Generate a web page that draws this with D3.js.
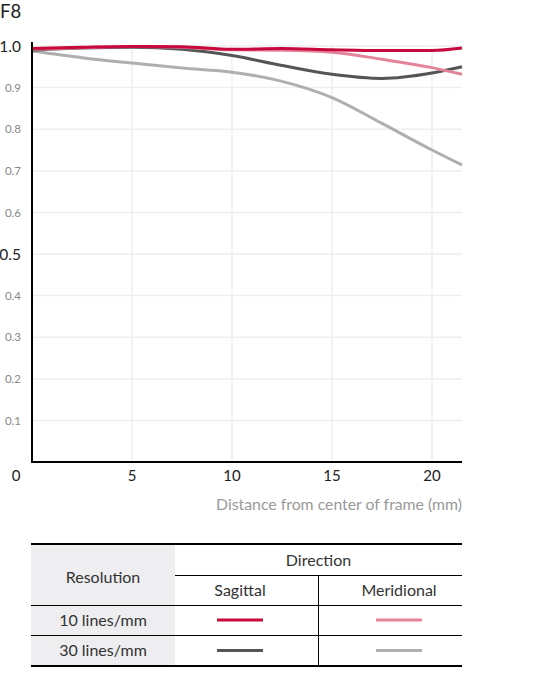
<!DOCTYPE html>
<html>
<head>
<meta charset="utf-8">
<script src="https://cdn.jsdelivr.net/npm/d3@7"></script>
<style>
  body { margin: 0; background: #fff; }
  svg { display: block; font-family: Lato, "Open Sans", sans-serif; }
</style>
</head>
<body>
<div id="mtf"></div>
<script>
// distance from center (mm) where values were read
var positions = [0, 2.5, 5, 7.5, 10, 12.5, 15, 17.5, 20, 21.5];
var sagittal10 = [0.994, 0.997, 0.999, 0.998, 0.992, 0.994, 0.991, 0.989, 0.989, 0.995];
var meridional10 = [0.992, 0.996, 0.999, 0.997, 0.991, 0.990, 0.985, 0.968, 0.948, 0.932];
var sagittal30 = [0.990, 0.995, 0.997, 0.992, 0.977, 0.953, 0.932, 0.922, 0.935, 0.950];
var meridional30 = [0.988, 0.972, 0.959, 0.947, 0.937, 0.915, 0.876, 0.814, 0.750, 0.714];

var xTicks = [5, 10, 15, 20];
var yTicks = [0.1, 0.2, 0.3, 0.4, 0.5, 0.6, 0.7, 0.8, 0.9, 1.0];
var bigYTicks = [0.5, 1.0];

var rowLabels = ["10 lines/mm", "30 lines/mm"];
var colLabels = ["Sagittal", "Meridional"];

var series = [
  { name: "Sagittal 10", values: sagittal10, color: "#c8093c", row: 0, col: 0 },
  { name: "Meridional 10", values: meridional10, color: "#e5839b", row: 0, col: 1 },
  { name: "Sagittal 30", values: sagittal30, color: "#555555", row: 1, col: 0 },
  { name: "Meridional 30", values: meridional30, color: "#afafaf", row: 1, col: 1 }
];

var width = 547, height = 679;
var svg = d3.select("#mtf").append("svg")
    .attr("width", width)
    .attr("height", height);

var x = d3.scaleLinear().domain([0, 21.5]).range([32, 462]);
var y = d3.scaleLinear().domain([0, 1]).range([462, 46]);

// title
svg.append("text")
    .attr("x", 0).attr("y", 18)
    .attr("font-size", 18.5).attr("fill", "#222")
    .text("F8");

// grid
svg.append("g").selectAll("line.h")
    .data(yTicks).enter().append("line")
    .attr("x1", x(0)).attr("x2", x(21.5))
    .attr("y1", function(d) { return y(d); })
    .attr("y2", function(d) { return y(d); })
    .attr("stroke", "#eeeeee").attr("stroke-width", 1.5);
svg.append("g").selectAll("line.v")
    .data(xTicks).enter().append("line")
    .attr("x1", function(d) { return x(d); })
    .attr("x2", function(d) { return x(d); })
    .attr("y1", y(1)).attr("y2", y(0))
    .attr("stroke", "#eeeeee").attr("stroke-width", 1.5);

// y tick labels
svg.append("g").selectAll("text")
    .data(yTicks).enter().append("text")
    .attr("x", 21)
    .attr("y", function(d) { return y(d); })
    .attr("dy", "0.36em")
    .attr("text-anchor", "end")
    .attr("font-size", function(d) { return bigYTicks.indexOf(d) >= 0 ? 15.5 : 11.5; })
    .attr("fill", function(d) { return bigYTicks.indexOf(d) >= 0 ? "#222" : "#888"; })
    .text(function(d) { return d3.format(".1f")(d); });

// x tick labels, with the shared origin label
svg.append("g").selectAll("text")
    .data(xTicks).enter().append("text")
    .attr("x", function(d) { return x(d); })
    .attr("y", 481)
    .attr("text-anchor", "middle")
    .attr("font-size", 15).attr("fill", "#222")
    .text(function(d) { return d; });
svg.append("text")
    .attr("x", 16).attr("y", 481)
    .attr("text-anchor", "middle")
    .attr("font-size", 15).attr("fill", "#222")
    .text("0");

svg.append("text")
    .attr("x", 462).attr("y", 510)
    .attr("text-anchor", "end")
    .attr("font-size", 15.8).attr("fill", "#999")
    .text("Distance from center of frame (mm)");

// curves
var line = d3.line()
    .x(function(d, i) { return x(positions[i]); })
    .y(function(d) { return y(d); })
    .curve(d3.curveMonotoneX);

svg.append("g").selectAll("path")
    .data(series.slice().reverse()).enter().append("path")
    .attr("d", function(d) { return line(d.values); })
    .attr("fill", "none")
    .attr("stroke", function(d) { return d.color; })
    .attr("stroke-width", 3);

// axes
svg.append("line")
    .attr("x1", x(0)).attr("x2", x(0))
    .attr("y1", 42).attr("y2", y(0) + 1)
    .attr("stroke", "#000").attr("stroke-width", 2);
svg.append("line")
    .attr("x1", x(0) - 1).attr("x2", x(21.5))
    .attr("y1", y(0)).attr("y2", y(0))
    .attr("stroke", "#000").attr("stroke-width", 2);

// legend table
var tL = 31, tR = 462, tTop = 544, tBot = 666;
var colX = [175, 318, tR];
var colCenters = [240, 399];
var rowY = [605, 635, tBot];
var table = svg.append("g").attr("font-size", 16).attr("fill", "#333");

table.append("rect")
    .attr("x", tL).attr("y", tTop).attr("width", colX[0] - tL).attr("height", tBot - tTop)
    .attr("fill", "#eeeef0");

table.append("line").attr("x1", tL).attr("x2", tR).attr("y1", tTop).attr("y2", tTop)
    .attr("stroke", "#000").attr("stroke-width", 2);
table.append("line").attr("x1", tL).attr("x2", tR).attr("y1", tBot).attr("y2", tBot)
    .attr("stroke", "#000").attr("stroke-width", 2);
table.append("line").attr("x1", colX[0]).attr("x2", tR).attr("y1", 575.5).attr("y2", 575.5)
    .attr("stroke", "#000").attr("stroke-width", 1);
table.selectAll("line.row")
    .data(rowY.slice(0, 2)).enter().append("line")
    .attr("x1", tL).attr("x2", tR)
    .attr("y1", function(d) { return d + 0.5; }).attr("y2", function(d) { return d + 0.5; })
    .attr("stroke", "#000").attr("stroke-width", 1);
table.append("line").attr("x1", colX[1] + 0.5).attr("x2", colX[1] + 0.5)
    .attr("y1", 575.5).attr("y2", tBot)
    .attr("stroke", "#000").attr("stroke-width", 1);

table.append("text").attr("x", (tL + colX[0]) / 2).attr("y", 577).attr("dy", "0.35em")
    .attr("text-anchor", "middle").text("Resolution");
table.append("text").attr("x", (colX[0] + tR) / 2).attr("y", 560).attr("dy", "0.35em")
    .attr("text-anchor", "middle").text("Direction");
table.selectAll("text.col")
    .data(colLabels).enter().append("text")
    .attr("x", function(d, i) { return colCenters[i]; })
    .attr("y", 590).attr("dy", "0.35em")
    .attr("text-anchor", "middle").text(function(d) { return d; });
table.selectAll("text.row")
    .data(rowLabels).enter().append("text")
    .attr("x", (tL + colX[0]) / 2)
    .attr("y", function(d, i) { return (rowY[i] + rowY[i + 1]) / 2; }).attr("dy", "0.35em")
    .attr("text-anchor", "middle").text(function(d) { return d; });

table.selectAll("line.swatch")
    .data(series).enter().append("line")
    .attr("x1", function(d) { return colCenters[d.col] - 23; })
    .attr("x2", function(d) { return colCenters[d.col] + 23; })
    .attr("y1", function(d) { return (rowY[d.row] + rowY[d.row + 1]) / 2; })
    .attr("y2", function(d) { return (rowY[d.row] + rowY[d.row + 1]) / 2; })
    .attr("stroke", function(d) { return d.color; })
    .attr("stroke-width", 3);
</script>
</body>
</html>
